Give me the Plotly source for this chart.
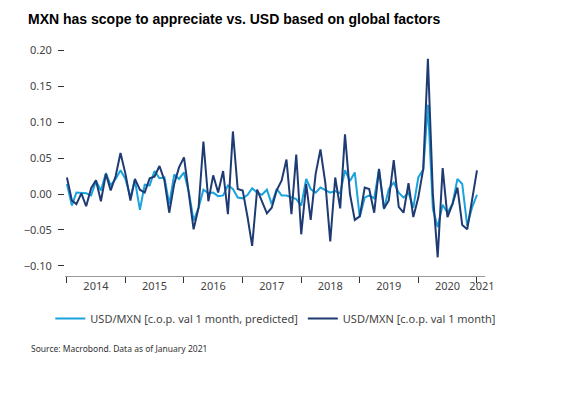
import plotly.graph_objects as go
import pandas as pd

dates = pd.date_range("2014-01-01", periods=85, freq="MS")

predicted = [0.014,-0.016,0.002,0.001,0.001,-0.002,0.018,0.005,0.029,0.012,0.021,0.033,
             0.021,-0.005,0.019,-0.022,0.013,0.012,0.032,0.022,0.023,-0.014,0.027,0.021,
             0.030,0.002,-0.037,-0.019,0.006,0.001,0.002,-0.003,-0.002,0.012,0.007,-0.005,
             -0.006,-0.001,0.008,0.002,-0.001,0.006,-0.014,0.007,-0.002,-0.002,-0.004,-0.007,
             -0.016,0.021,0.007,0.002,0.009,0.006,0.002,0.004,0.001,0.033,0.018,0.030,
             -0.032,-0.005,-0.002,-0.006,0.034,-0.021,0.007,0.016,0.002,-0.005,0.002,-0.019,
             0.023,0.034,0.124,-0.021,-0.046,-0.015,-0.026,-0.014,0.021,0.014,-0.044,-0.019,-0.001]
actual = [0.023,-0.009,-0.014,0.001,-0.017,0.008,0.019,-0.010,0.028,0.005,0.025,0.057,
          0.028,-0.009,0.021,0.006,0.002,0.022,0.024,0.039,0.019,-0.026,0.014,0.037,
          0.051,0.000,-0.049,-0.019,0.073,-0.010,0.026,0.002,0.032,-0.028,0.087,0.007,
          0.005,-0.033,-0.072,0.006,-0.009,-0.027,-0.019,0.005,0.019,0.048,-0.028,0.055,
          -0.056,0.014,-0.036,0.028,0.062,0.014,-0.066,0.023,-0.020,0.083,0.000,-0.036,
          -0.031,0.009,0.007,-0.026,0.035,-0.020,-0.009,0.047,-0.018,-0.026,0.015,-0.032,
          -0.005,0.035,0.188,0.000,-0.088,0.036,-0.032,-0.014,0.009,-0.043,-0.049,-0.009,0.033]

year_labels = ["2014","2015","2016","2017","2018","2019","2020","2021"]
label_pos = ["2014-07-01","2015-07-01","2016-07-01","2017-07-01","2018-07-01","2019-07-01","2020-07-01","2021-02-01"]

fig = go.Figure()
fig.add_trace(go.Scatter(x=dates, y=predicted, mode="lines", name="USD/MXN [c.o.p. val 1 month, predicted]",
                         line=dict(color="#1aa3dc", width=2)))
fig.add_trace(go.Scatter(x=dates, y=actual, mode="lines", name="USD/MXN [c.o.p. val 1 month]",
                         line=dict(color="#1f3b73", width=2)))

fig.update_layout(
    width=572, height=413, margin=dict(l=57, r=95, t=35, b=145, autoexpand=False),
    paper_bgcolor="white", plot_bgcolor="white",
    font=dict(family="Noto Sans", size=11, color="#444"),
    title=dict(text="<b>MXN has scope to appreciate vs. USD based on global factors</b>",
               x=0.035, xref="container", xanchor="left", y=0.985, yref="container", yanchor="top",
               automargin=False,
               font=dict(family="Liberation Sans", size=14, color="black")),
    showlegend=True,
    legend=dict(orientation="h", x=-0.035, y=-0.12, xanchor="left", yanchor="top",
                font=dict(size=11, color="#444")),
)
fig.update_xaxes(range=["2013-12-20", "2021-02-20"], tickvals=label_pos, ticktext=year_labels,
                 ticks="", showgrid=False, showline=True, linecolor="#999", linewidth=1,
                 automargin=False,
                 minor=dict(ticks="outside", ticklen=6, tickcolor="#333", dtick="M12",
                            tick0="2014-01-01", showgrid=False),
                 tickfont=dict(size=11, color="#444"))
fig.update_yaxes(range=[-0.114, 0.21], tickvals=[-0.10,-0.05,0.0,0.05,0.10,0.15,0.20],
                 tickformat=".2f", ticks="outside", ticklen=6, tickcolor="#333",
                 showgrid=False, zeroline=False, showline=False, ticklabelstandoff=4,
                 automargin=False,
                 tickfont=dict(size=11, color="#444"))
fig.add_annotation(text="Source: Macrobond. Data as of January 2021", xref="paper", yref="paper",
                   x=-0.085, y=-0.28, xanchor="left", yanchor="top", showarrow=False,
                   font=dict(size=8.5, color="#333"))
fig.write_html("out.html")
